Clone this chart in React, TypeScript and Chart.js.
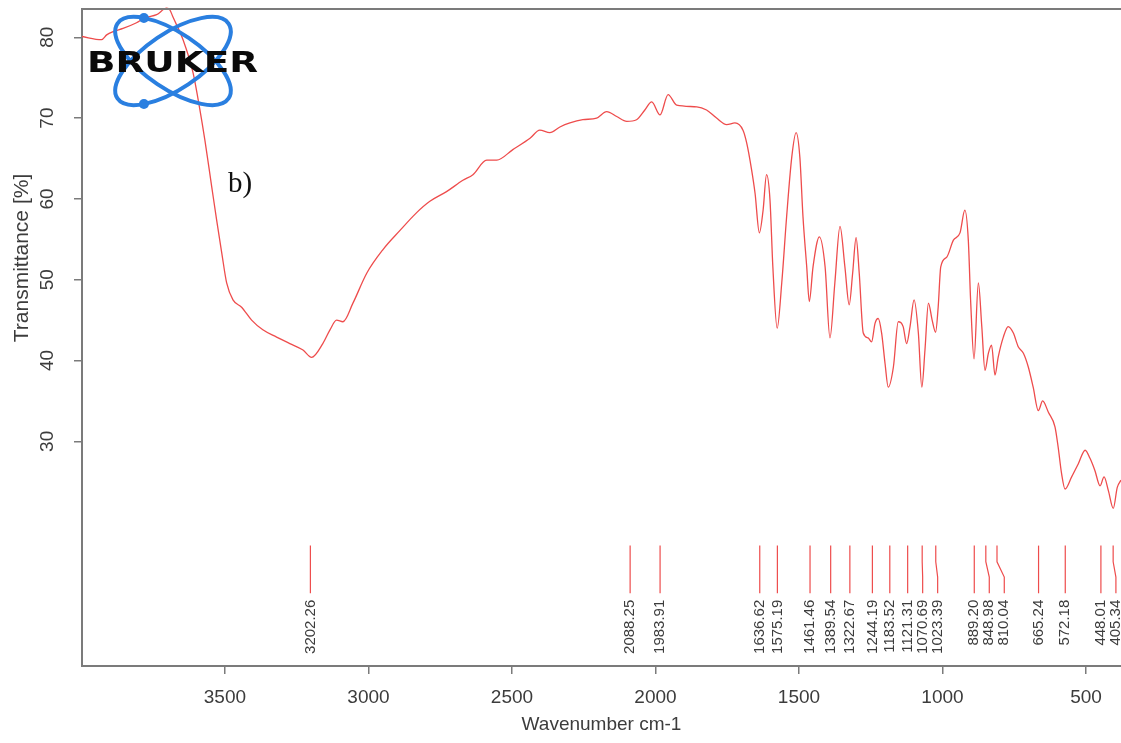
import React, { useEffect, useRef } from 'react';
import { Chart, registerables } from 'chart.js';

Chart.register(...registerables);

// ---- data ----
const wavenumbers = [
  3999, 3930, 3912, 3890, 3855, 3808, 3779, 3738, 3703, 3692, 3681, 3646, 3611, 3587, 3570, 3546, 3529, 3511,
  3494, 3472, 3442, 3407, 3368, 3320, 3274, 3228, 3198, 3159, 3134, 3111, 3089, 3054, 3006, 2950, 2890, 2832,
  2786, 2728, 2671, 2636, 2588, 2553, 2497, 2437, 2403, 2368, 2333, 2298, 2253, 2205, 2170, 2135, 2100, 2066,
  2037, 2013, 1984, 1956, 1926, 1856, 1822, 1787, 1752, 1723, 1695, 1682, 1665, 1653, 1638, 1625, 1613, 1601,
  1591, 1576, 1560, 1543, 1525, 1510, 1497, 1486, 1473, 1464, 1451, 1429, 1409, 1392, 1375, 1357, 1340, 1325,
  1313, 1301, 1290, 1276, 1259, 1247, 1235, 1224, 1212, 1200, 1189, 1171, 1154, 1137, 1125, 1113, 1099, 1084,
  1072, 1061, 1049, 1036, 1024, 1015, 1006, 985, 962, 939, 922, 910, 902, 890, 875, 863, 852, 840, 829, 817,
  806, 788, 771, 753, 736, 718, 701, 684, 666, 651, 631, 608, 597, 585, 573, 550, 527, 503, 486, 469, 451, 437,
  422, 405, 391, 378,
];
const transmittance = [
  80.1, 79.7, 80.3, 80.7, 81.1, 81.8, 82.4, 82.8, 83.6, 83.4, 82.5, 79.7, 75.6, 71.0, 67.3, 61.5, 57.4, 53.3,
  49.6, 47.5, 46.6, 45.0, 43.8, 42.9, 42.1, 41.3, 40.4, 42.1, 43.8, 45.0, 44.8, 47.1, 50.8, 53.7, 56.1, 58.3,
  59.7, 60.9, 62.3, 63.0, 64.8, 64.8, 66.1, 67.5, 68.5, 68.2, 68.9, 69.4, 69.8, 70.0, 70.8, 70.2, 69.6, 69.8,
  71.0, 72.0, 70.4, 72.9, 71.6, 71.4, 71.0, 70.0, 69.2, 69.4, 68.5, 66.9, 63.6, 60.7, 55.8, 58.6, 63.0, 59.9,
  51.6, 44.0, 49.6, 57.8, 65.2, 68.2, 65.2, 57.8, 51.6, 47.3, 51.6, 55.3, 51.6, 42.8, 49.6, 56.6, 51.6, 46.9,
  50.8, 55.2, 50.8, 43.4, 42.8, 42.3, 44.6, 45.2, 43.4, 39.6, 36.7, 39.2, 44.8, 44.2, 42.1, 44.2, 47.5, 43.4,
  36.7, 41.3, 47.1, 45.0, 43.5, 46.6, 51.6, 52.8, 54.9, 55.8, 58.6, 54.9, 47.5, 40.2, 49.6, 44.2, 38.8, 40.9,
  41.9, 38.2, 40.4, 42.9, 44.2, 43.4, 41.7, 40.9, 39.2, 36.7, 33.8, 35.0, 33.6, 31.8, 29.3, 26.0, 24.1, 25.6,
  27.2, 28.9, 27.9, 26.4, 24.5, 25.6, 23.9, 21.7, 24.3, 25.2,
];
const peakWavenumbers = [
  3202.26, 2088.25, 1983.91, 1636.62, 1575.19, 1461.46, 1389.54, 1322.67, 1244.19, 1183.52, 1121.31, 1070.69,
  1023.39, 889.2, 848.98, 810.04, 665.24, 572.18, 448.01, 405.34,
];
const xTickValues = [500, 1000, 1500, 2000, 2500, 3000, 3500];
const yTickValues = [30, 40, 50, 60, 70, 80];
const xAxisTitle = 'Wavenumber cm-1';
const yAxisTitle = 'Transmittance [%]';
const panelLabel = 'b)';
const logoText = 'BRUKER';

// ---- styling / layout ----
const W = 1121;
const H = 743;
const SANS = '"Liberation Sans", Arial, Helvetica, sans-serif';
const SERIF = '"Liberation Serif", "Times New Roman", serif';
const AXIS_COLOR = '#7b7b7b';
const TEXT_COLOR = '#3c3c3c';
const RED = 'rgb(238, 76, 76)';
const LOGO_BLUE = '#2a7fe0';

// peak marker geometry, in transmittance units
const MARK_TOP = 17.1;
const MARK_BEND_A = 15.1;
const MARK_BEND_B = 13.2;
const MARK_BOTTOM = 11.2;
const LABEL_TOP = 10.4;
const LABEL_GAP = 15;

const overlay = {
  id: 'overlay',
  afterDatasetsDraw(chart: any) {
    const { ctx, chartArea: ca, scales } = chart;
    const xs = scales.x;
    const ys = scales.y;
    ctx.save();

    // top frame line
    ctx.strokeStyle = AXIS_COLOR;
    ctx.lineWidth = 2;
    ctx.beginPath();
    ctx.moveTo(ca.left - 1, ca.top);
    ctx.lineTo(ca.right, ca.top);
    ctx.stroke();

    // peak markers
    const trueX = peakWavenumbers.map((p) => xs.getPixelForValue(p));
    const order = trueX.map((_, i) => i).sort((a, b) => trueX[a] - trueX[b]);
    const labelX: number[] = new Array(trueX.length);
    let prev = -Infinity;
    for (const i of order) {
      const lx = Math.max(trueX[i], prev + LABEL_GAP);
      labelX[i] = lx;
      prev = lx;
    }
    const yTop = ys.getPixelForValue(MARK_TOP);
    const yA = ys.getPixelForValue(MARK_BEND_A);
    const yB = ys.getPixelForValue(MARK_BEND_B);
    const yBot = ys.getPixelForValue(MARK_BOTTOM);
    const yLab = ys.getPixelForValue(LABEL_TOP);
    ctx.strokeStyle = RED;
    ctx.lineWidth = 1.2;
    peakWavenumbers.forEach((p, i) => {
      ctx.beginPath();
      ctx.moveTo(trueX[i], yTop);
      ctx.lineTo(trueX[i], yA);
      ctx.lineTo(labelX[i], yB);
      ctx.lineTo(labelX[i], yBot);
      ctx.stroke();
    });
    ctx.fillStyle = TEXT_COLOR;
    ctx.font = `15px ${SANS}`;
    peakWavenumbers.forEach((p, i) => {
      ctx.save();
      ctx.translate(labelX[i], yLab);
      ctx.rotate(-Math.PI / 2);
      ctx.textAlign = 'right';
      ctx.textBaseline = 'middle';
      ctx.fillText(p.toFixed(2), 0, 0);
      ctx.restore();
    });

    // y tick labels (rotated)
    ctx.font = `19px ${SANS}`;
    ctx.fillStyle = TEXT_COLOR;
    yTickValues.forEach((v) => {
      ctx.save();
      ctx.translate(ca.left - 34, ys.getPixelForValue(v));
      ctx.rotate(-Math.PI / 2);
      ctx.textAlign = 'center';
      ctx.textBaseline = 'middle';
      ctx.fillText(String(v), 0, 0);
      ctx.restore();
    });

    // axis titles
    ctx.save();
    ctx.font = `21px ${SANS}`;
    ctx.translate(22, 258);
    ctx.rotate(-Math.PI / 2);
    ctx.textAlign = 'center';
    ctx.textBaseline = 'middle';
    ctx.fillText(yAxisTitle, 0, 0);
    ctx.restore();
    ctx.font = `19px ${SANS}`;
    ctx.textAlign = 'center';
    ctx.textBaseline = 'middle';
    ctx.fillText(xAxisTitle, (ca.left + ca.right) / 2, 725);

    // panel label
    ctx.fillStyle = '#111';
    ctx.font = `29px ${SERIF}`;
    ctx.textAlign = 'left';
    ctx.textBaseline = 'alphabetic';
    ctx.fillText(panelLabel, 228, 192);

    // logo
    const cx = 173;
    const cy = 61;
    const ang = (34 * Math.PI) / 180;
    ctx.strokeStyle = LOGO_BLUE;
    ctx.lineWidth = 4;
    for (const r of [ang, -ang]) {
      ctx.beginPath();
      ctx.ellipse(cx, cy, 67, 28, r, 0, Math.PI * 2);
      ctx.stroke();
    }
    ctx.fillStyle = LOGO_BLUE;
    const dot = (r: number, t: number) => {
      const lx = 67 * Math.cos(t);
      const ly = 28 * Math.sin(t);
      const x = cx + lx * Math.cos(r) - ly * Math.sin(r);
      const y = cy + lx * Math.sin(r) + ly * Math.cos(r);
      ctx.beginPath();
      ctx.arc(x, y, 5, 0, Math.PI * 2);
      ctx.fill();
    };
    dot(ang, (224 * Math.PI) / 180);
    dot(-ang, (136 * Math.PI) / 180);
    ctx.fillStyle = '#0a0a0a';
    ctx.font = `bold 28px "DejaVu Sans", ${SANS}`;
    const tw = ctx.measureText(logoText).width;
    ctx.save();
    ctx.translate(87, 72);
    ctx.scale(171 / tw, 1);
    ctx.textAlign = 'left';
    ctx.textBaseline = 'alphabetic';
    ctx.fillText(logoText, 0, 0);
    ctx.restore();

    ctx.restore();
  },
};

export default function App() {
  const ref = useRef<HTMLCanvasElement>(null);
  useEffect(() => {
    if (!ref.current) return;
    const chart = new Chart(ref.current, {
      type: 'line',
      data: {
        datasets: [
          {
            data: wavenumbers.map((v, i) => ({ x: v, y: transmittance[i] })),
            borderColor: RED,
            borderWidth: 1.3,
            pointRadius: 0,
            cubicInterpolationMode: 'monotone',
            fill: false,
            clip: { left: 0, top: 6, right: 0, bottom: 0 },
          } as any,
        ],
      },
      options: {
        animation: false,
        responsive: false,
        devicePixelRatio: 1,
        events: [],
        layout: { padding: { top: 9, left: 0, right: 0, bottom: 0 } },
        plugins: { legend: { display: false }, tooltip: { enabled: false } },
        scales: {
          x: {
            type: 'linear',
            reverse: true,
            min: 378,
            max: 3998,
            position: 'bottom',
            afterFit: (s: any) => {
              s.height = 77;
            },
            afterBuildTicks: (s: any) => {
              s.ticks = xTickValues.map((v) => ({ value: v }));
            },
            ticks: {
              autoSkip: false,
              maxRotation: 0,
              minRotation: 0,
              padding: 12,
              color: TEXT_COLOR,
              font: { family: SANS, size: 19 },
              callback: (v: any) => String(v),
            },
            grid: { drawOnChartArea: false, drawTicks: true, tickLength: 8, color: AXIS_COLOR, lineWidth: 1.5 },
            border: { display: true, color: AXIS_COLOR, width: 2 },
          },
          y: {
            type: 'linear',
            min: 2.2,
            max: 83.5,
            afterFit: (s: any) => {
              s.width = 82;
            },
            afterBuildTicks: (s: any) => {
              s.ticks = yTickValues.map((v) => ({ value: v }));
            },
            ticks: { display: false },
            grid: { drawOnChartArea: false, drawTicks: true, tickLength: 8, color: AXIS_COLOR, lineWidth: 1.5 },
            border: { display: true, color: AXIS_COLOR, width: 2 },
          },
        },
      } as any,
      plugins: [overlay],
    });
    return () => chart.destroy();
  }, []);
  return (
    <div
      style={{
        position: 'fixed',
        left: 0,
        top: 0,
        width: W,
        height: H,
        background: '#fff',
        overflow: 'hidden',
      }}
    >
      <canvas ref={ref} width={W} height={H} style={{ display: 'block', width: W, height: H }} />
    </div>
  );
}
